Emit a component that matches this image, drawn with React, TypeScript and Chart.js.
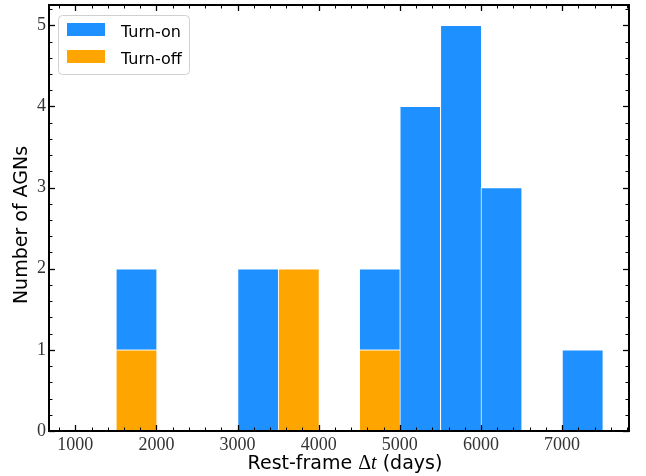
import React, { useEffect, useRef } from "react";
import { Chart, registerables } from "chart.js";

Chart.register(...registerables);

// Histogram bins (width 500 days), centres in days
const binCenters = [1250, 1750, 2250, 2750, 3250, 3750, 4250, 4750, 5250, 5750, 6250, 6750, 7250];
const turnOn = [0, 1, 0, 0, 2, 0, 0, 1, 4, 5, 3, 0, 1];
const turnOff = [0, 1, 0, 0, 0, 2, 0, 1, 0, 0, 0, 0, 0];
const xTicks = [1000, 2000, 3000, 4000, 5000, 6000, 7000];
const yTicks = [0, 1, 2, 3, 4, 5];
const seriesNames = ["Turn-on", "Turn-off"];

const BLUE = "#1E90FF";
const ORANGE = "#FFA500";

const W = 646;
const H = 476;

const framePlugin = {
  id: "frame",
  afterDatasetsDraw(chart: any) {
    const { ctx, chartArea: a, scales } = chart;
    const xs = scales.x;
    const ys = scales.y;
    ctx.save();
    ctx.strokeStyle = "#000";
    const line = (x1: number, y1: number, x2: number, y2: number) => {
      ctx.beginPath();
      ctx.moveTo(x1, y1);
      ctx.lineTo(x2, y2);
      ctx.stroke();
    };
    // x ticks (inward, bottom and top)
    for (let v = 800; v <= xs.max; v += 200) {
      const px = Math.round(xs.getPixelForValue(v)) + 0.5;
      const major = v % 1000 === 0;
      const len = major ? 6 : 3.5;
      ctx.lineWidth = major ? 1.3 : 1;
      line(px, a.bottom, px, a.bottom - len);
      line(px, a.top, px, a.top + len);
    }
    // y ticks (inward, left and right)
    for (let i = 0; i <= 26; i++) {
      const v = i * 0.2;
      if (v > ys.max) break;
      const py = Math.round(ys.getPixelForValue(v)) + 0.5;
      const major = i % 5 === 0;
      const len = major ? 6 : 3.5;
      ctx.lineWidth = major ? 1.3 : 1;
      line(a.left, py, a.left + len, py);
      line(a.right, py, a.right - len, py);
    }
    ctx.lineWidth = 2;
    ctx.strokeRect(a.left, a.top, a.right - a.left, a.bottom - a.top);
    ctx.restore();
  },
  afterDraw(chart: any) {
    const { ctx } = chart;
    ctx.save();
    // Y title
    ctx.fillStyle = "#000";
    ctx.font = "19px 'DejaVu Sans'";
    ctx.textAlign = "center";
    ctx.textBaseline = "alphabetic";
    ctx.translate(27, 225);
    ctx.rotate(-Math.PI / 2);
    ctx.fillText("Number of AGNs", 0, 0);
    ctx.setTransform(1, 0, 0, 1, 0, 0);

    // X title with math delta t
    const parts = [
      { t: "Rest-frame ", f: "19px 'DejaVu Sans'" },
      { t: "Δ", f: "20px 'Liberation Serif'" },
      { t: "t", f: "italic 20px 'Liberation Serif'" },
      { t: " (days)", f: "19px 'DejaVu Sans'" },
    ];
    ctx.textAlign = "left";
    let total = 0;
    const widths = parts.map((p) => {
      ctx.font = p.f;
      const w = ctx.measureText(p.t).width;
      total += w;
      return w;
    });
    let x = 345 - total / 2;
    parts.forEach((p, i) => {
      ctx.font = p.f;
      ctx.fillText(p.t, x, 469);
      x += widths[i];
    });

    // Legend
    const lx = 58.5, ly = 15.5, lw = 131, lh = 59, r = 4;
    ctx.beginPath();
    ctx.moveTo(lx + r, ly);
    ctx.lineTo(lx + lw - r, ly);
    ctx.arcTo(lx + lw, ly, lx + lw, ly + r, r);
    ctx.lineTo(lx + lw, ly + lh - r);
    ctx.arcTo(lx + lw, ly + lh, lx + lw - r, ly + lh, r);
    ctx.lineTo(lx + r, ly + lh);
    ctx.arcTo(lx, ly + lh, lx, ly + lh - r, r);
    ctx.lineTo(lx, ly + r);
    ctx.arcTo(lx, ly, lx + r, ly, r);
    ctx.closePath();
    ctx.fillStyle = "rgba(255,255,255,0.8)";
    ctx.fill();
    ctx.strokeStyle = "#d0d0d0";
    ctx.lineWidth = 1;
    ctx.stroke();

    ctx.fillStyle = BLUE;
    ctx.fillRect(67, 23, 38, 13);
    ctx.fillStyle = ORANGE;
    ctx.fillRect(67, 50, 38, 13);
    ctx.fillStyle = "#000";
    ctx.font = "16px 'DejaVu Sans'";
    ctx.fillText(seriesNames[0], 121, 37);
    ctx.fillText(seriesNames[1], 121, 64);
    ctx.restore();
  },
};

export default function App() {
  const ref = useRef<HTMLCanvasElement>(null);
  useEffect(() => {
    if (!ref.current) return;
    const toPts = (arr: number[]) =>
      binCenters.map((c, i) => ({ x: c, y: arr[i] === 0 ? null : arr[i] }));
    const barStyle = {
      borderColor: "#ffffff",
      borderWidth: { top: 1, left: 1, right: 0, bottom: 0 },
      borderSkipped: false,
      barPercentage: 1,
      categoryPercentage: 1,
    };
    const chart = new Chart(ref.current, {
      type: "bar",
      data: {
        datasets: [
          { label: seriesNames[1], data: toPts(turnOff), backgroundColor: ORANGE, ...barStyle } as any,
          { label: seriesNames[0], data: toPts(turnOn), backgroundColor: BLUE, ...barStyle } as any,
        ],
      },
      options: {
        animation: false,
        responsive: false,
        devicePixelRatio: 1,
        layout: { padding: { top: 5, right: 17, left: 0, bottom: 0 } },
        plugins: { legend: { display: false }, tooltip: { enabled: false } },
        scales: {
          x: {
            type: "linear",
            min: 675,
            max: 7825,
            stacked: true,
            offset: false,
            grid: { display: false, drawTicks: false },
            border: { display: false },
            afterBuildTicks: (s: any) => {
              s.ticks = xTicks.map((v) => ({ value: v }));
            },
            afterFit: (s: any) => {
              s.height = 45;
              s.paddingLeft = 0;
              s.paddingRight = 0;
              s.paddingTop = 0;
              s.paddingBottom = 0;
            },
            ticks: {
              autoSkip: false,
              maxRotation: 0,
              padding: 3,
              color: "#333",
              font: { family: "'Liberation Serif'", size: 18 },
              callback: (v: any) => String(v),
            },
          },
          y: {
            min: 0,
            max: 5.25,
            stacked: true,
            grid: { display: false, drawTicks: false },
            border: { display: false },
            afterBuildTicks: (s: any) => {
              s.ticks = yTicks.map((v) => ({ value: v }));
            },
            afterFit: (s: any) => {
              s.width = 49;
              s.paddingLeft = 0;
              s.paddingRight = 0;
              s.paddingTop = 0;
              s.paddingBottom = 0;
            },
            ticks: {
              autoSkip: false,
              padding: 3,
              color: "#333",
              font: { family: "'Liberation Serif'", size: 18 },
              callback: (v: any) => String(v),
            },
          },
        },
      },
      plugins: [framePlugin],
    } as any);
    return () => chart.destroy();
  }, []);
  return (
    <div style={{ position: "fixed", left: 0, top: 0, width: W, height: H, background: "#fff" }}>
      <canvas ref={ref} width={W} height={H} style={{ width: W, height: H, display: "block" }} />
    </div>
  );
}
